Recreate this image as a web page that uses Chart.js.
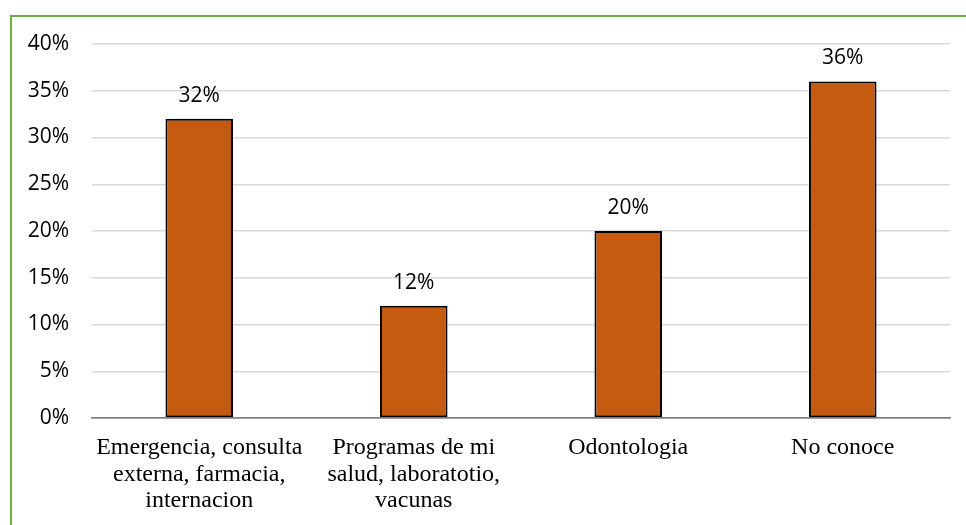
<!DOCTYPE html>
<html>
<head>
<meta charset="utf-8">
<script src="https://cdn.jsdelivr.net/npm/chart.js@4.4.1/dist/chart.umd.min.js"></script>
<style>
  html, body { margin: 0; padding: 0; background: #fff; }
  #wrap { position: relative; width: 966px; height: 525px; }
  #frame { position: absolute; left: 10px; top: 15px; right: 0; bottom: 0;
           border-left: 2px solid #70AD47; border-top: 2px solid #70AD47; }
  #chart { position: absolute; left: 0; top: 0; }
</style>
</head>
<body>
<div id="wrap">
  <div id="frame"></div>
  <canvas id="chart" width="966" height="525"></canvas>
</div>
<script>
// --- données ---
const categories = [
    ["Emergencia, consulta", "externa, farmacia,", "internacion"],
    ["Programas de mi", "salud, laboratotio,", "vacunas"],
    ["Odontologia"],
    ["No conoce"]
];
const values = [32, 12, 20, 36];
const yMax = 40;
const yStep = 5;

const barColor = '#C55A11';

// étiquettes au-dessus des barres
const valueLabels = {
    id: 'valueLabels',
    afterDatasetsDraw(chart) {
        const ctx = chart.ctx;
        const meta = chart.getDatasetMeta(0);
        ctx.save();
        ctx.font = '21px "Open Sans"';
        ctx.fillStyle = '#000';
        ctx.textAlign = 'center';
        ctx.textBaseline = 'alphabetic';
        meta.data.forEach((bar, i) => {
            ctx.fillText(values[i] + '%', bar.x, bar.y - 17);
        });
        ctx.restore();
    }
};

new Chart(document.getElementById('chart'), {
    type: 'bar',
    data: {
        labels: categories,
        datasets: [{
            data: values,
            backgroundColor: barColor,
            borderColor: '#000',
            borderWidth: 2,
            borderSkipped: false,
            categoryPercentage: 1,
            barPercentage: 0.315
        }]
    },
    options: {
        responsive: false,
        animation: false,
        layout: { padding: { top: 44, right: 16, left: 0, bottom: 0 } },
        plugins: { legend: { display: false }, tooltip: { enabled: false } },
        scales: {
            x: {
                grid: { display: false },
                border: { display: true, color: '#808080', width: 1.5 },
                ticks: {
                    color: '#000',
                    font: { family: '"Liberation Serif"', size: 24, lineHeight: 1.12 },
                    padding: 8,
                    maxRotation: 0
                },
                afterFit(scale) { scale.height = 107; }
            },
            y: {
                min: 0,
                max: yMax,
                ticks: {
                    stepSize: yStep,
                    color: '#000',
                    font: { family: '"Open Sans"', size: 21 },
                    padding: 23,
                    callback: v => v + '%'
                },
                grid: {
                    drawTicks: false,
                    color: ctx => ctx.tick.value === 0 ? '#808080' : '#d9d9d9',
                    lineWidth: 1.5
                },
                border: { display: false },
                afterFit(scale) { scale.width = 92; }
            }
        }
    },
    plugins: [valueLabels]
});
</script>
</body>
</html>
